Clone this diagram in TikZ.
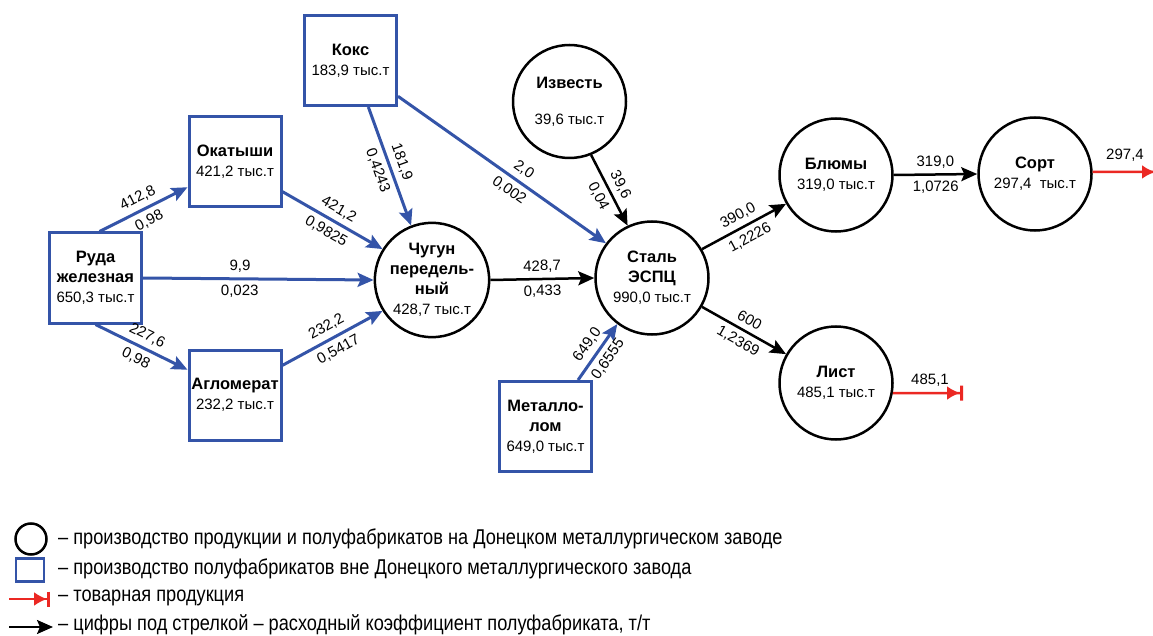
\documentclass[tikz,border=0pt]{standalone}
\usepackage{fontspec}
\setmainfont{Liberation Sans}
\newfontfamily\lgfont[FakeStretch=0.85]{Liberation Sans}
\usetikzlibrary{arrows.meta}

\definecolor{dmzblue}{RGB}{52,84,168}
\definecolor{dmzred}{RGB}{235,40,35}
\newcommand{\ttl}[1]{{\fontsize{16.5}{20}\selectfont\bfseries #1}}

\tikzset{
  outbox/.style={draw=dmzblue, line width=3pt, minimum width=92pt, minimum height=90pt, align=center, font=\fontsize{15}{20}\selectfont, inner sep=1pt},
  inring/.style={circle, draw=black, line width=2.5pt, minimum size=113pt, align=center, font=\fontsize{15}{20}\selectfont, inner sep=1pt},
  bluearr/.style={draw=dmzblue, line width=3pt, -{Stealth[length=16pt,width=14pt,inset=3pt]}},
  blackarr/.style={draw=black, line width=2.5pt, -{Stealth[length=16pt,width=14pt,inset=3pt]}},
  redarr/.style={draw=dmzred, line width=2.5pt, -{Latex[length=13pt,width=14pt,sep=0pt]Bar[width=15pt,line width=3pt]}},
  val/.style={font=\fontsize{15}{17}\selectfont, sloped, midway, inner sep=1pt},
  lgtext/.style={anchor=west, font=\lgfont\fontsize{21.4}{23}\selectfont, inner sep=0pt}
}

\begin{document}
\begin{tikzpicture}[x=1pt, y=-1pt]
				% Nodes, flows and legend:
				\useasboundingbox (0,0) rectangle (1153,636);
				\node[outbox] (ruda) at (95.5, 278){\ttl{Руда}\\\ttl{железная}\\650,3 тыс.т};
				\node[outbox] (okat) at (235, 162){\ttl{Окатыши}\\421,2 тыс.т};
				\node[outbox] (aglo) at (235, 395){\ttl{Агломерат}\\232,2 тыс.т};
				\node[outbox] (koks) at (350.5, 60.5){\ttl{Кокс}\\183,9 тыс.т};
				\node[outbox] (metl) at (545.5, 426.5){\ttl{Металло-}\\\ttl{лом}\\649,0 тыс.т};
				\node[inring] (chug) at (432, 280){\ttl{Чугун}\\\ttl{передель-}\\\ttl{ный}\\428,7 тыс.т};
				\node[inring] (izv) at (569.5, 101.5){\ttl{Известь}\\[16pt]39,6 тыс.т};
				\node[inring] (stal) at (652, 278){\ttl{Сталь}\\\ttl{ЭСПЦ}\\990,0 тыс.т};
				\node[inring] (blum) at (836, 175){\ttl{Блюмы}\\319,0 тыс.т};
				\node[inring] (sort) at (1035, 174){\ttl{Сорт}\\297,4\ \ тыс.т};
				\node[inring] (list) at (836, 383){\ttl{Лист}\\485,1 тыс.т};
				\draw[bluearr] (ruda.85) -- (okat.208) node[val, above=4pt]{412,8} node[val, below=4pt]{0,98};
				\draw[bluearr] (ruda.south) -- (aglo.152) node[val, above=4pt]{227,6} node[val, below=4pt]{0,98};
				\draw[bluearr] (ruda.east) -- (chug.west) node[val, above=4pt, pos=0.42]{9,9} node[val, below=4pt, pos=0.42]{0,023};
				\draw[bluearr] (okat.-32) -- (chug.148) node[val, above=4pt]{421,2} node[val, below=4pt]{0,9825};
				\draw[bluearr] (aglo.32) -- (chug.212) node[val, above=4pt]{232,2} node[val, below=4pt]{0,5417};
				\draw[bluearr] (koks.-69) -- (chug.111) node[val, above=4pt]{181,9} node[val, below=4pt]{0,4243};
				\draw[bluearr] (koks.-37) -- (stal.143) node[val, above=4pt, pos=0.57]{2,0} node[val, below=4pt, pos=0.57]{0,002};
				\draw[bluearr] (metl.55) -- (stal.233) node[val, above=4pt]{649,0} node[val, below=4pt]{0,6555};
				\draw[blackarr] (izv.-68) -- (stal.115) node[val, above=4pt]{39,6} node[val, below=4pt]{0,04};
				\draw[blackarr] (chug.east) -- (stal.west) node[val, above=4pt]{428,7} node[val, below=4pt]{0,433};
				\draw[blackarr] (stal.30) -- (blum.210) node[val, above=4pt]{390,0} node[val, below=4pt]{1,2226};
				\draw[blackarr] (stal.-30) -- (list.150) node[val, above=4pt]{600} node[val, below=4pt]{1,2369};
				\draw[blackarr] (blum.east) -- (sort.west) node[val, above=4pt]{319,0} node[val, below=4pt]{1,0726};
				\coordinate (sortout) at (1158, 172);
				\coordinate (listout) at (963, 393);
				\draw[redarr] (sort.2) -- (sortout);
				\draw[redarr] (list.-10) -- (listout);
				\node[font=\fontsize{15}{17}\selectfont] (sortval) at (1125, 155){297,4};
				\node[font=\fontsize{15}{17}\selectfont] (listval) at (930, 380){485,1};
				% legend
				\node[circle, draw=black, line width=2.5pt, minimum size=31pt, inner sep=0pt] (lgring) at (31, 539){};
				\node[draw=dmzblue, line width=2.5pt, minimum width=28pt, minimum height=23pt, inner sep=0pt] (lgbox) at (30, 570){};
				\coordinate (lgreda) at (9, 599);
				\coordinate (lgredb) at (50, 599);
				\coordinate (lgblka) at (9, 627);
				\coordinate (lgblkb) at (53, 627);
				\draw[redarr, line width=2pt] (lgreda) -- (lgredb);
				\draw[blackarr, line width=2pt] (lgblka) -- (lgblkb);
				\node[lgtext] (lgt1) at (58, 539){– производство продукции и полуфабрикатов на Донецком металлургическом заводе};
				\node[lgtext] (lgt2) at (58, 569){– производство полуфабрикатов вне Донецкого металлургического завода};
				\node[lgtext] (lgt3) at (58, 598){– товарная продукция};
				\node[lgtext] (lgt4) at (58, 625){– цифры под стрелкой – расходный коэффициент полуфабриката, т/т};
			\end{tikzpicture}
\end{document}
